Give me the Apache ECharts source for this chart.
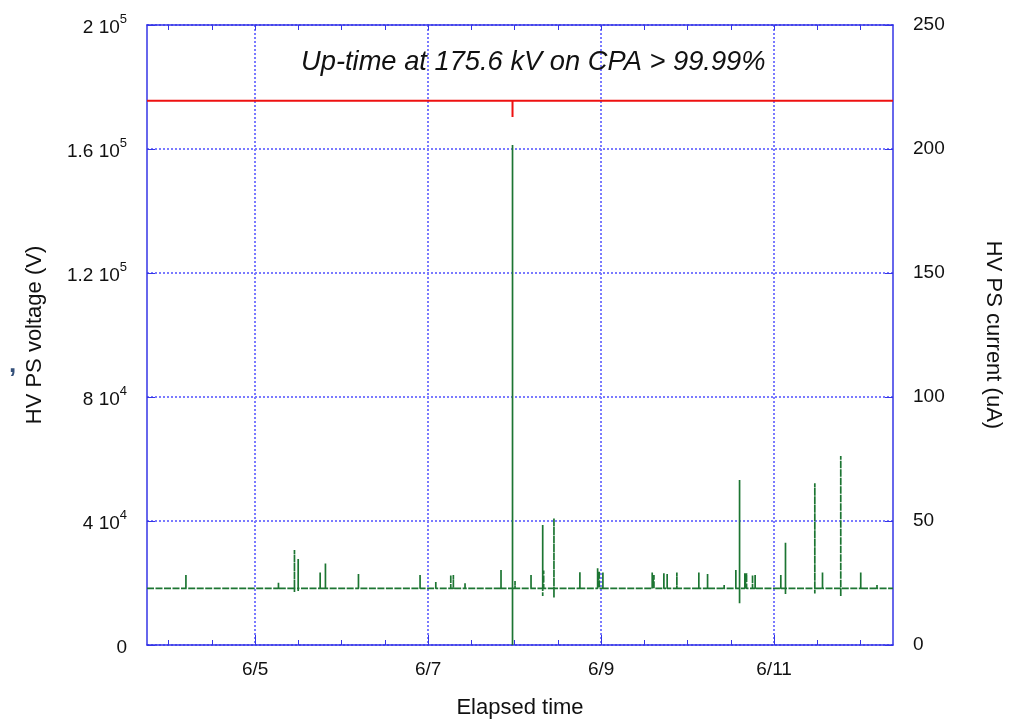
<!DOCTYPE html>
<html>
<head>
<meta charset="utf-8">
<title>HV PS</title>
<script src="https://cdn.jsdelivr.net/npm/echarts@6/dist/echarts.min.js"></script>
<style>
    html, body { margin: 0; padding: 0; background: #fff; }
    #main { width: 1015px; height: 723px; }
</style>
</head>
<body>
<div id="main"></div>
<script>
// x values are days of June (5.0 = 6/5 00:00)
var xMin = 3.75, xMax = 12.375;
var minorTickDays = [4, 4.5, 5, 5.5, 6, 6.5, 7, 7.5, 8, 8.5, 9, 9.5, 10, 10.5, 11, 11.5, 12];
var majorTickDays = [5, 7, 9, 11];
var majorTickLabels = ['6/5', '6/7', '6/9', '6/11'];

// HV PS voltage (V): flat with one short dip
var voltDays   = [3.75, 7.976, 7.976, 7.976, 12.375];
var voltValues = [175600, 175600, 170300, 175600, 175600];

// HV PS current (uA): baseline plus spikes
var currentBase = 22.8;
var spikeDays = [4.20, 5.27, 5.455, 5.498, 5.752, 5.813, 6.195, 6.907, 7.089, 7.262, 7.292, 7.427,
    7.843, 7.976, 8.005, 8.190, 8.325, 8.336, 8.455, 8.755, 8.960, 8.979, 9.021, 9.591, 9.611,
    9.726, 9.764, 9.876, 10.130, 10.231, 10.423, 10.558, 10.601, 10.662, 10.682, 10.751, 10.781,
    11.078, 11.132, 11.471, 11.560, 11.771, 12.002, 12.190];
var spikeHigh = [28.2, 25.1, 38.3, 34.7, 29.2, 32.9, 28.6, 28.2, 25.4, 28.2, 28.2, 25.1,
    30.2, 201.6, 25.8, 28.2, 48.4, 30.0, 51.1, 29.3, 30.9, 29.6, 29.2, 29.2, 28.2,
    28.9, 28.6, 29.2, 29.2, 28.6, 24.2, 30.2, 66.5, 28.9, 28.9, 28.2, 28.2,
    28.2, 41.2, 65.2, 29.2, 76.2, 29.2, 24.2];
var spikeLow = [22.8, 22.8, 21.4, 21.8, 22.8, 22.8, 22.8, 22.8, 22.8, 22.8, 22.8, 22.8,
    22.8, 0, 22.8, 22.8, 19.8, 22.8, 19.2, 22.8, 22.8, 22.8, 22.8, 22.8, 22.8,
    22.8, 22.8, 22.8, 22.8, 22.8, 22.8, 22.8, 16.8, 22.8, 22.8, 22.8, 22.8,
    22.8, 20.6, 20.8, 22.8, 19.5, 22.8, 22.8];

var blue = '#3434e6';
var gridBlue = '#7a7aff';
var font = "'Liberation Sans', Arial, Helvetica, sans-serif";

var voltData = [];
for (var i = 0; i < voltDays.length; i++) {
    voltData.push([voltDays[i], voltValues[i]]);
}

var currentData = [[xMin, currentBase]];
for (var j = 0; j < spikeDays.length; j++) {
    currentData.push([spikeDays[j], currentBase]);
    currentData.push([spikeDays[j], spikeHigh[j]]);
    currentData.push([spikeDays[j], spikeLow[j]]);
    currentData.push([spikeDays[j], currentBase]);
}
currentData.push([xMax, currentBase]);

// "1.6 10^5" style labels
function sciLabel(v) {
    if (v === 0) return '{m|0}';
    var e = Math.floor(Math.log10(v) + 1e-9);
    var m = Math.round(v / Math.pow(10, e) * 10) / 10;
    return '{m|' + m + ' 10}{e|' + e + '}';
}

var chart = echarts.init(document.getElementById('main'));

var option = {
    animation: false,
    textStyle: { fontFamily: font },
    title: {
        text: 'Up-time at 175.6 kV on CPA > 99.99%',
        left: 296,
        top: 44,
        textStyle: { fontFamily: font, fontStyle: 'italic', fontWeight: 'normal', fontSize: 27.3, color: '#111' }
    },
    graphic: [{
        type: 'text',
        left: 9,
        top: 352,
        style: { text: ',', fontSize: 26, fontWeight: 'bold', fill: '#34507a', fontFamily: font }
    }],
    grid: { left: 147, right: 122, top: 25, bottom: 78, containLabel: false, outerBoundsMode: 'none' },
    xAxis: [{
        type: 'value', position: 'bottom', min: xMin, max: xMax,
        axisLine: { onZero: false, lineStyle: { color: blue, width: 1.5 } },
        axisTick: { inside: true, length: 5, customValues: minorTickDays, lineStyle: { color: blue } },
        axisLabel: { show: false },
        splitLine: { show: false }
    }, {
        type: 'value', position: 'bottom', min: xMin, max: xMax,
        axisLine: { show: false, onZero: false },
        axisTick: { inside: true, length: 10, customValues: majorTickDays, lineStyle: { color: blue } },
        axisLabel: {
            customValues: majorTickDays, margin: 15, fontSize: 19, color: '#111',
            formatter: function (v) { return majorTickLabels[majorTickDays.indexOf(v)]; }
        },
        splitLine: { show: true, lineStyle: { color: gridBlue, type: [2, 2], width: 2 } },
        name: 'Elapsed time', nameLocation: 'middle', nameGap: 52,
        nameTextStyle: { fontSize: 22, color: '#111' }
    }, {
        type: 'value', position: 'top', min: xMin, max: xMax,
        axisLine: { onZero: false, lineStyle: { color: blue, width: 1.5 } },
        axisTick: { inside: true, length: 5, customValues: minorTickDays, lineStyle: { color: blue } },
        axisLabel: { show: false },
        splitLine: { show: false }
    }],
    yAxis: [{
        type: 'value', position: 'left', min: 0, max: 200000, interval: 40000,
        axisLine: { show: true, lineStyle: { color: blue, width: 1.5 } },
        axisTick: { show: true, inside: true, length: 8, lineStyle: { color: blue } },
        axisLabel: {
            margin: 20, color: '#111',
            formatter: sciLabel,
            rich: {
                m: { fontSize: 19, color: '#111', fontFamily: font, lineHeight: 24, verticalAlign: 'bottom' },
                e: { fontSize: 13, color: '#111', fontFamily: font, lineHeight: 24, verticalAlign: 'top' }
            }
        },
        splitLine: { show: true, lineStyle: { color: gridBlue, type: [2, 2], width: 2 } },
        name: 'HV PS voltage (V)', nameLocation: 'middle', nameGap: 101,
        nameTextStyle: { fontSize: 22, color: '#111' }
    }, {
        type: 'value', position: 'right', min: 0, max: 250, interval: 50,
        axisLine: { show: true, lineStyle: { color: blue, width: 1.5 } },
        axisTick: { show: true, inside: true, length: 8, lineStyle: { color: blue } },
        axisLabel: { margin: 20, fontSize: 19, color: '#111' },
        splitLine: { show: false },
        name: 'HV PS current (uA)', nameLocation: 'middle', nameGap: 89, nameRotate: -90,
        nameTextStyle: { fontSize: 22, color: '#111' }
    }],
    series: [{
        name: 'current',
        type: 'line',
        xAxisIndex: 0,
        yAxisIndex: 1,
        data: currentData,
        symbol: 'none',
        lineStyle: { color: '#1c7532', width: 1.7, type: [7, 1.5] },
        z: 3
    }, {
        name: 'voltage',
        type: 'line',
        xAxisIndex: 0,
        yAxisIndex: 0,
        data: voltData,
        symbol: 'none',
        lineStyle: { color: '#ee1111', width: 2 },
        z: 4
    }]
};

chart.setOption(option);
</script>
</body>
</html>
